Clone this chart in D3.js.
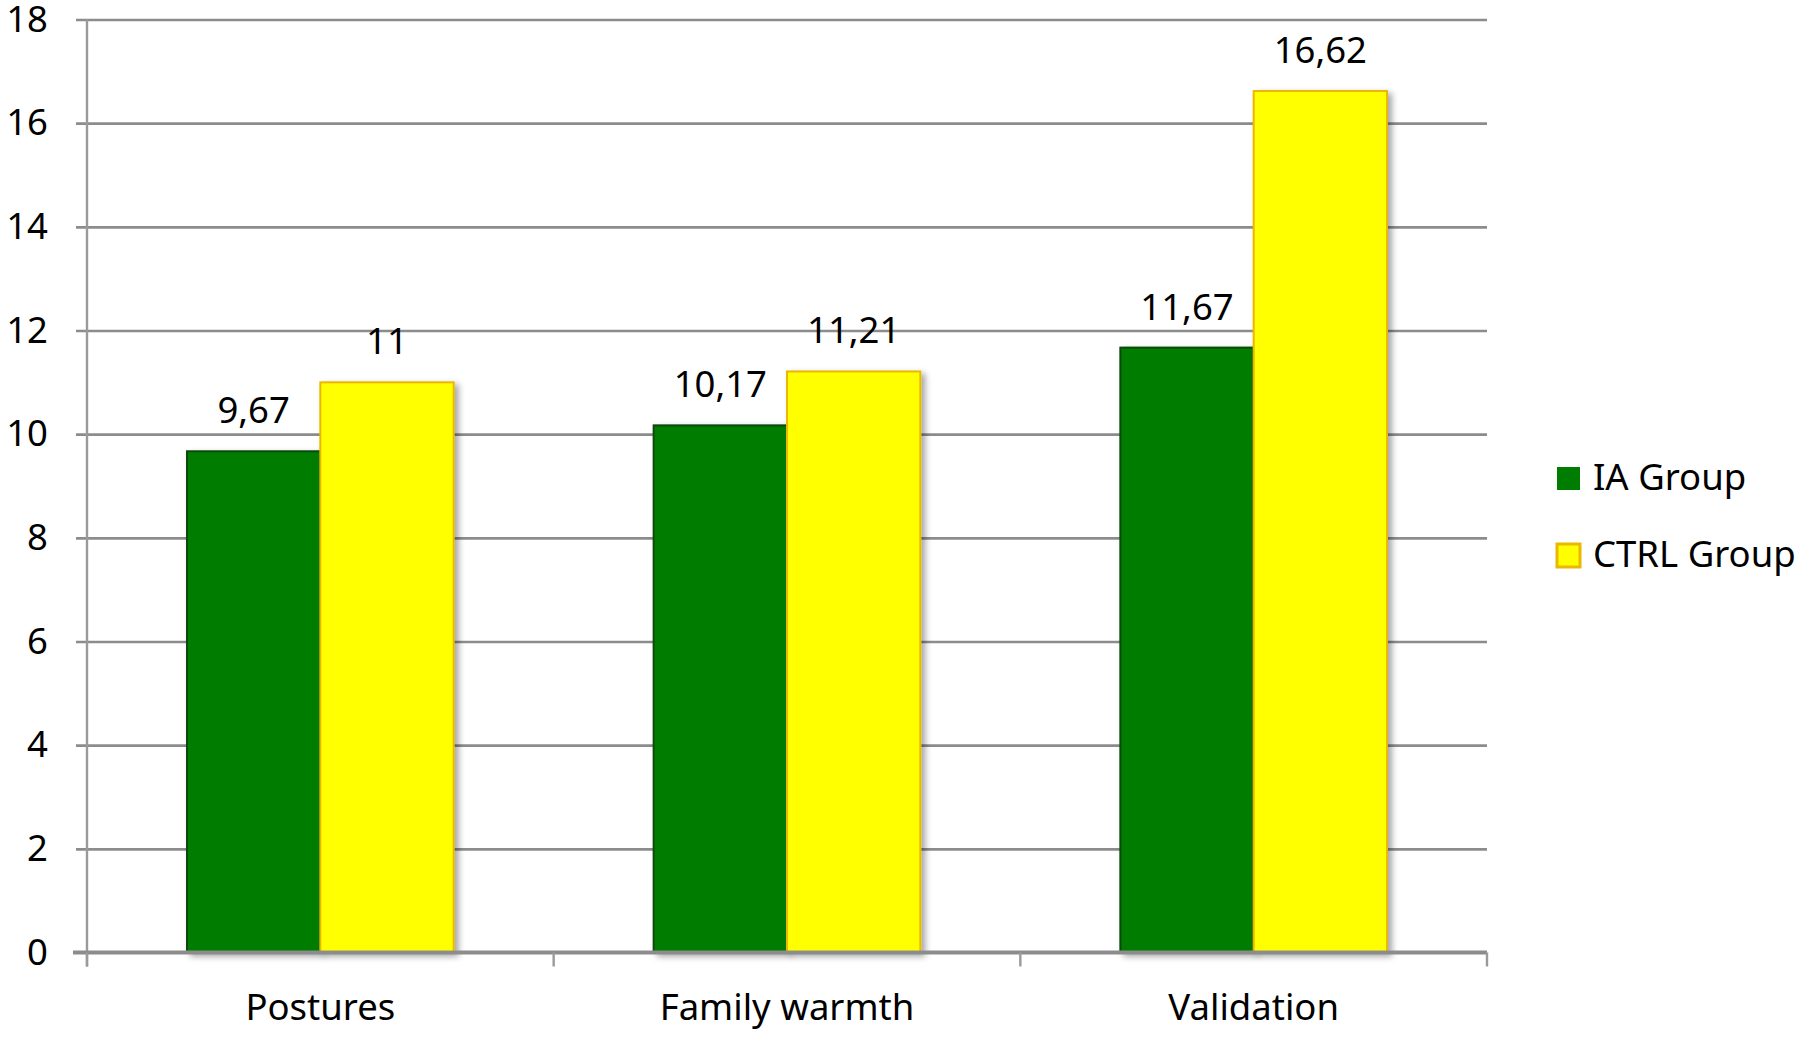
<!DOCTYPE html>
<html>
<head>
<meta charset="utf-8">
<script src="https://cdn.jsdelivr.net/npm/d3@7"></script>
<style>
  body { margin: 0; background: #fff; }
  text { font-family: "Noto Sans", "Open Sans", sans-serif; fill: #000; }
</style>
</head>
<body>
<div id="chart-area"></div>
<script>
var categories = ["Postures", "Family warmth", "Validation"];
var seriesNames = ["IA Group", "CTRL Group"];
var iaValues = [9.67, 10.17, 11.67];
var ctrlValues = [11, 11.21, 16.62];
var iaLabels = ["9,67", "10,17", "11,67"];
var ctrlLabels = ["11", "11,21", "16,62"];
var yTicks = [0, 2, 4, 6, 8, 10, 12, 14, 16, 18];

var total_width = 1803;
var total_height = 1041;
var fontSize = "36.5px";

var svg = d3.select('#chart-area').append('svg')
            .attr("width", total_width)
            .attr("height", total_height);

var plotLeft = 87, plotRight = 1487, plotTop = 19.5, plotBottom = 952.5;

var fills = { "IA Group": "#007d00", "CTRL Group": "#ffff00" };
var strokes = { "IA Group": "#0b4a0b", "CTRL Group": "#eab800" };

// drop shadow like the office chart
var defs = svg.append("defs");
defs.append("filter").attr("id", "shadow")
    .attr("x", "-10%").attr("y", "-10%").attr("width", "130%").attr("height", "130%")
    .append("feDropShadow")
    .attr("dx", 4).attr("dy", 3).attr("stdDeviation", 3)
    .attr("flood-color", "#000").attr("flood-opacity", 0.35);

var y = d3.scaleLinear().domain([0, 18]).range([plotBottom, plotTop]);
var x0 = d3.scaleBand().domain(categories).range([plotLeft, plotRight]).paddingInner(0).paddingOuter(0);
var x1 = d3.scaleBand().domain(seriesNames).range([0, x0.bandwidth()]).paddingInner(0).paddingOuter(0.75);

// gridlines
var grid = svg.append('g')
    .attr("transform", "translate(" + (plotLeft - 11) + ",0)")
    .call(d3.axisLeft(y).tickValues(yTicks.filter(d => d > 0)).tickSize(-(plotRight - plotLeft + 11)).tickFormat(""));
grid.select(".domain").remove();
grid.selectAll("line").attr("stroke", "#8c8c8c").attr("stroke-width", 2.6);

// y tick labels
var yAxis = svg.append('g')
    .attr("transform", "translate(" + plotLeft + ",0)")
    .call(d3.axisLeft(y).tickValues(yTicks).tickSize(0).tickPadding(39));
yAxis.select(".domain").remove();
yAxis.selectAll("text").attr("font-size", fontSize).attr("fill", "#000")
     .attr("font-family", "Noto Sans, Open Sans, sans-serif");

// y axis line
svg.append("line")
   .attr("x1", plotLeft).attr("x2", plotLeft)
   .attr("y1", plotTop).attr("y2", plotBottom + 14)
   .attr("stroke", "#9a9a9a").attr("stroke-width", 2.4);

// bars
var rows = categories.map(function(c, i) {
    return [
        { cat: c, series: "IA Group", value: iaValues[i], label: iaLabels[i] },
        { cat: c, series: "CTRL Group", value: ctrlValues[i], label: ctrlLabels[i] }
    ];
});

var groups = svg.selectAll(".grp").data(rows).enter().append("g")
    .attr("class", "grp")
    .attr("transform", d => "translate(" + x0(d[0].cat) + ",0)");

groups.selectAll("rect").data(d => d).enter().append("rect")
    .attr("x", d => x1(d.series))
    .attr("y", d => y(d.value))
    .attr("width", x1.bandwidth())
    .attr("height", d => y(0) - y(d.value))
    .attr("fill", d => fills[d.series])
    .attr("stroke", d => strokes[d.series])
    .attr("stroke-width", 2)
    .attr("filter", "url(#shadow)");

groups.selectAll(".val").data(d => d).enter().append("text")
    .attr("class", "val")
    .attr("x", d => x1(d.series) + x1.bandwidth() / 2)
    .attr("y", d => y(d.value) - 28)
    .attr("text-anchor", "middle")
    .attr("font-size", fontSize)
    .text(d => d.label);

// zero line
svg.append("line")
   .attr("x1", plotLeft - 14).attr("x2", plotRight)
   .attr("y1", y(0)).attr("y2", y(0))
   .attr("stroke", "#8c8c8c").attr("stroke-width", 4);

// category axis
var xAxis = svg.append('g')
    .attr("transform", "translate(0," + plotBottom + ")")
    .call(d3.axisBottom(x0).tickSize(0));
xAxis.select(".domain").remove();
xAxis.selectAll("text").attr("dy", null).attr("y", 67.5)
     .attr("font-size", fontSize).attr("fill", "#000")
     .attr("font-family", "Noto Sans, Open Sans, sans-serif");

// category boundary ticks
var bounds = categories.map(c => x0(c)).concat([plotRight]);
svg.selectAll(".bnd").data(bounds).enter().append("line")
   .attr("class", "bnd")
   .attr("x1", d => d).attr("x2", d => d)
   .attr("y1", plotBottom).attr("y2", plotBottom + 14)
   .attr("stroke", "#9a9a9a").attr("stroke-width", 2.4);

// legend
var legend = svg.selectAll(".leg").data(seriesNames).enter().append("g")
    .attr("class", "leg")
    .attr("transform", (d, i) => "translate(1557," + (467 + i * 77) + ")");
legend.append("rect")
    .attr("width", 23).attr("height", 23)
    .attr("fill", d => fills[d])
    .attr("stroke", d => d == "CTRL Group" ? strokes[d] : "none")
    .attr("stroke-width", 3);
legend.append("text")
    .attr("x", 36).attr("y", 23)
    .attr("font-size", fontSize)
    .text(d => d);
</script>
</body>
</html>
